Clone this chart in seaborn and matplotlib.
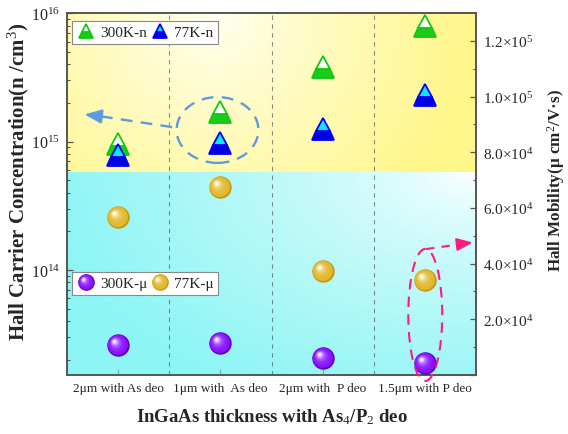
import matplotlib
matplotlib.use("Agg")
import matplotlib.pyplot as plt
import numpy as np
import seaborn as sns
from matplotlib.lines import Line2D
from matplotlib.patches import Ellipse
from matplotlib.path import Path
from matplotlib.legend_handler import HandlerTuple
from matplotlib.ticker import FuncFormatter, MultipleLocator, LogLocator

# ---- data ----
categories = ["2\u03bcm with As deo", "1\u03bcm with  As deo",
              "2\u03bcm with  P deo", "1.5\u03bcm with P deo"]
conc_300k = [9.5e14, 1.7e15, 3.8e15, 8.0e15]   # Hall carrier concentration, 300 K
conc_77k = [7.9e14, 9.8e14, 1.26e15, 2.3e15]   # Hall carrier concentration, 77 K
mob_300k = [1.09e4, 1.16e4, 0.61e4, 0.44e4]    # Hall mobility, 300 K
mob_77k = [5.68e4, 6.75e4, 3.73e4, 3.40e4]     # Hall mobility, 77 K

sns.set_theme(style="ticks")
plt.rcParams["font.family"] = ["Liberation Serif", "DejaVu Serif"]
plt.rcParams["mathtext.fontset"] = "custom"
plt.rcParams["mathtext.rm"] = "Liberation Serif"
plt.rcParams["mathtext.it"] = "Liberation Serif:italic"
plt.rcParams["mathtext.bf"] = "Liberation Serif:bold"

EDGE = "#555555"
BLUE_NOTE = "#5B9BE0"
PINK_NOTE = "#FF1A80"


def ball_marker(cx, cy, r):
    # circle inside a fixed [-1, 1] box so every layer keeps the same scale
    anchor = Path([(-1, -1), (1, 1)], [Path.MOVETO, Path.MOVETO])
    return Path.make_compound_path(anchor, Path.circle((cx, cy), r))


def mix(c1, c2, t):
    a = np.array(matplotlib.colors.to_rgb(c1))
    b = np.array(matplotlib.colors.to_rgb(c2))
    return tuple(a + (b - a) * t)


def sphere_layers(outer, body, light):
    radii = [1.0, 0.9, 0.7, 0.52, 0.38, 0.26, 0.15]
    shifts = [0.0, 0.06, 0.14, 0.22, 0.28, 0.32, 0.34]
    layers = []
    for i, (r, s) in enumerate(zip(radii, shifts)):
        if i == 0:
            col = outer
        else:
            col = mix(body, light, ((i - 1) / (len(radii) - 2)) ** 1.6)
        layers.append((ball_marker(-s, s, r), col))
    return layers


purple_layers = sphere_layers("#5E00C0", "#8A12FF", "#F4E8FF")
gold_layers = sphere_layers("#C49A12", "#E2B82E", "#FFFBEA")

fig = plt.figure(figsize=(5.68, 4.35), dpi=100)
pos = [0.118, 0.1356, 0.720, 0.832]

# ---- gradient background ----
bg = fig.add_axes(pos, zorder=0)
W, H = 409, 362
xx, yy = np.meshgrid(np.arange(W) + 0.5, np.arange(H) + 0.5)
split = 0.56 * H
yellow_full = np.array(matplotlib.colors.to_rgb("#FFF68A"))
yellow_light = np.array(matplotlib.colors.to_rgb("#FFFFF2"))
cyan_full = np.array(matplotlib.colors.to_rgb("#8EF5F5"))
cyan_light = np.array(matplotlib.colors.to_rgb("#FFFFFF"))
dy_ = np.hypot(xx - 145, (yy - H) * 1.0) / 260
ty = np.clip(dy_, 0, 1) ** 0.9
dc = np.hypot((xx - 405) * 1.0, (yy - split) * 1.7) / 430
tc = np.clip(dc, 0, 1) ** 0.7
img_y = yellow_light + (yellow_full - yellow_light) * ty[..., None]
img_c = cyan_light + (cyan_full - cyan_light) * tc[..., None]
img = np.where((yy >= split)[..., None], img_y, img_c)
bg.imshow(img, extent=[0, 1, 0, 1], origin="lower", aspect="auto",
          interpolation="bilinear")
bg.set_xlim(0, 1)
bg.set_ylim(0, 1)
bg.axis("off")

ax = fig.add_axes(pos, zorder=1)
ax.patch.set_visible(False)
ax2 = ax.twinx()
ax2.set_zorder(2)
ax2.patch.set_visible(False)

xpos = np.arange(len(categories))

for x in [0.5, 1.5, 2.5]:
    ax.axvline(x, color="#444444", lw=0.8, ls=(0, (4, 4)), alpha=0.6, zorder=1)

# ---- triangles: carrier concentration ----
tri_300 = dict(marker="^", ms=16.5, fillstyle="bottom", mfc="#19CC19",
               mfcalt="white", mec="#10C810", mew=1.3, ls="none")
tri_77 = dict(marker="^", ms=16.5, fillstyle="bottom", mfc="#0000E0",
              mfcalt="#12E6FF", mec="#0000FF", mew=1.3, ls="none")
ax.plot(xpos, conc_300k, zorder=3, **tri_300)
ax.plot(xpos, conc_77k, zorder=4, **tri_77)

# ---- spheres: mobility ----
for vals, layers in [(mob_300k, purple_layers), (mob_77k, gold_layers)]:
    for path, col in layers:
        sns.scatterplot(x=xpos, y=vals, marker=path, s=260, color=col,
                        linewidth=0, ax=ax2, legend=False, zorder=3)

ax.set_yscale("log")
ax.set_ylim(1.52e13, 1e16)
ax.set_xlim(-0.5, 3.5)
ax2.set_ylim(0, 1.3e5)

ax.set_xticks(xpos)
ax.set_xticklabels(categories)
ax.yaxis.set_major_locator(LogLocator(base=10, numticks=10))
ax.yaxis.set_minor_locator(LogLocator(base=10, subs=np.arange(2, 10), numticks=20))
ax.yaxis.set_minor_formatter(matplotlib.ticker.NullFormatter())
ax.tick_params(axis="both", which="major", direction="in", length=4,
               width=0.9, color=EDGE, labelsize=11.5, pad=5)
ax.tick_params(axis="x", labelsize=9.5, color="#7FAFB0")
ax.tick_params(axis="y", which="minor", direction="in", length=2.5,
               width=0.8, color=EDGE)
ax.tick_params(top=False)

ax2.yaxis.set_major_locator(MultipleLocator(2e4))
ax2.yaxis.set_minor_locator(MultipleLocator(1e4))


def mob_fmt(v, _):
    if v <= 0:
        return ""
    e = int(np.floor(np.log10(v)))
    return f"{v / 10 ** e:.1f}\u00d710$^{{{e}}}$"


ax2.yaxis.set_major_formatter(FuncFormatter(mob_fmt))
ax2.tick_params(axis="y", which="major", direction="in", length=4,
                width=0.9, color=EDGE, labelsize=11, pad=5)
ax2.tick_params(axis="y", which="minor", direction="in", length=2.5,
                width=0.8, color=EDGE)

for a in (ax, ax2):
    for sp in a.spines.values():
        sp.set_color(EDGE)
        sp.set_linewidth(1.2)

ax.set_xlabel("InGaAs thickness with As$_4$/P$_2$ deo", fontsize=13.5,
              fontweight="bold", labelpad=9)
ax.set_ylabel("Hall Carrier Concentration(n /cm$^3$)", fontsize=15,
              fontweight="bold")
ax.yaxis.set_label_coords(-0.087, 0.536)
ax2.set_ylabel("Hall Mobility(\u03bc cm$^2$/V\u00b7s)", fontsize=12.3,
               fontweight="bold")
ax2.yaxis.set_label_coords(1.168, 0.539)

# ---- legends ----
leg_kw = dict(frameon=True, fancybox=False, framealpha=1, edgecolor="#888888",
              fontsize=11, ncol=2, handletextpad=0.25, columnspacing=0.2,
              borderpad=0.3, handlelength=1.3, borderaxespad=0)
h300 = Line2D([], [], **{**tri_300, "ms": 10})
h77 = Line2D([], [], **{**tri_77, "ms": 10})
leg1 = ax.legend([h300, h77], ["300K-n", "77K-n"], loc="upper left",
                 bbox_to_anchor=(0.012, 0.978), **leg_kw)
leg1.get_frame().set_linewidth(0.8)


def ball_handle(layers):
    return tuple(Line2D([], [], marker=p, ms=12, mfc=c, mew=0, ls="none")
                 for p, c in layers)


leg2 = ax2.legend([ball_handle(purple_layers), ball_handle(gold_layers)],
                  ["300K-\u03bc", "77K-\u03bc"], loc="lower left",
                  bbox_to_anchor=(0.012, 0.221),
                  handler_map={tuple: HandlerTuple(ndivide=1, pad=0)},
                  **leg_kw)
leg2.get_frame().set_linewidth(0.8)

# ---- annotations ----
ax.add_patch(Ellipse((0.368, 0.677), 0.20, 0.182, transform=ax.transAxes,
                     fill=False, ec=BLUE_NOTE, lw=1.7, ls=(0, (5, 3.5)),
                     zorder=5))
ax.plot([0.257, 0.075], [0.685, 0.716], transform=ax.transAxes,
        color=BLUE_NOTE, lw=1.7, ls=(0, (5, 3.5)), zorder=5)
ax.annotate("", xy=(0.036, 0.721), xytext=(0.08, 0.715),
            xycoords="axes fraction",
            arrowprops=dict(arrowstyle="-|>,head_length=0.85,head_width=0.35",
                            color=BLUE_NOTE, lw=1.7), zorder=5)

ax2.add_patch(Ellipse((0.876, 0.166), 0.083, 0.365, transform=ax2.transAxes,
                      fill=False, ec=PINK_NOTE, lw=1.5, ls=(0, (5, 3.5)),
                      clip_on=False, zorder=5))
ax2.plot([0.878, 0.965], [0.348, 0.362], transform=ax2.transAxes,
         color=PINK_NOTE, lw=1.5, ls=(0, (4, 3.5)), zorder=5)
ax2.annotate("", xy=(0.999, 0.367), xytext=(0.955, 0.361),
             xycoords="axes fraction",
             arrowprops=dict(arrowstyle="-|>,head_length=0.8,head_width=0.32",
                             color=PINK_NOTE, lw=1.5), zorder=5)

fig.savefig("out.png", dpi=100)
